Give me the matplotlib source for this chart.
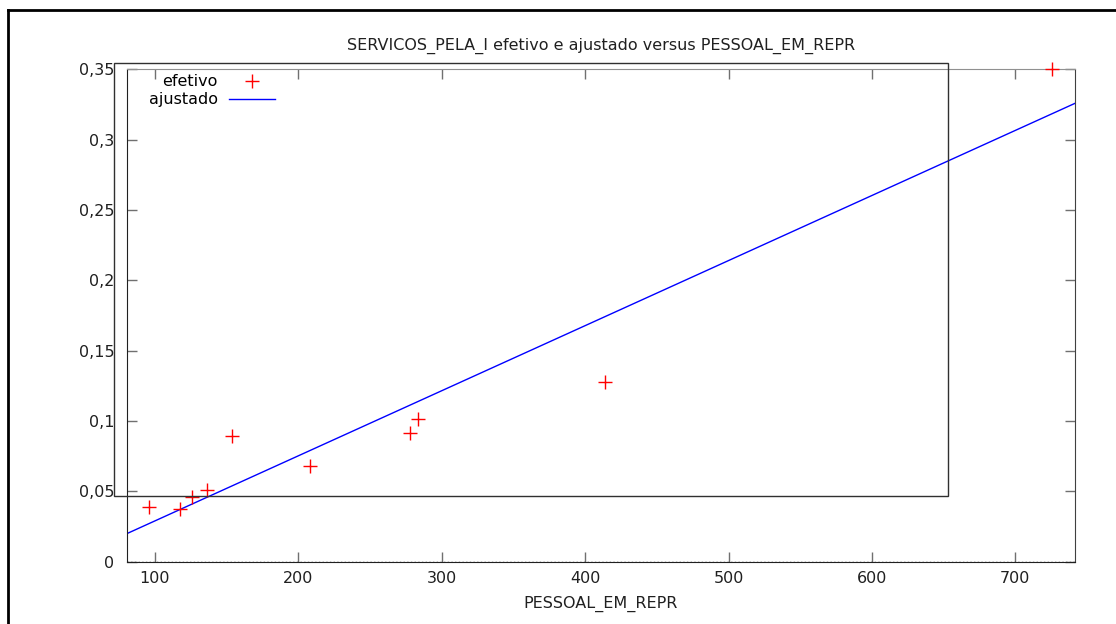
import matplotlib
matplotlib.use('Agg')
import matplotlib.pyplot as plt
import numpy as np
from matplotlib.ticker import FuncFormatter

# dados
pessoal = [95.8, 117.4, 125.6, 136.0, 153.9, 208.1, 278.0, 283.2, 413.8, 725.7]
servicos = [0.0389, 0.0375, 0.0462, 0.0510, 0.0896, 0.0678, 0.0915, 0.1012, 0.1275, 0.350]
coef = [0.0004626, -0.01725]   # inclinacao, intercepto
x_lim = [80.3, 741.6]
y_ticks = [0, 0.05, 0.1, 0.15, 0.2, 0.25, 0.3, 0.35]
x_ticks = [100, 200, 300, 400, 500, 600, 700]

fs = 11.5
plt.rcParams['font.family'] = 'DejaVu Sans'
plt.rcParams['font.size'] = fs

fig = plt.figure(figsize=(11.16, 6.24), dpi=100)
W, H = 1116, 624
ax = fig.add_axes([126.7 / W, 1 - 561.7 / H, (1075 - 126.7) / W, (561.7 - 69.3) / H])

ax.plot(pessoal, servicos, linestyle='none', marker='+', color='#ff0000',
        markersize=10, markeredgewidth=1, label='efetivo', clip_on=False, zorder=3)
xx = np.array(x_lim)
ax.plot(xx, np.polyval(coef, xx), color='#0000ff', lw=1, label='ajustado')

ax.set_xlim(x_lim)
ax.set_ylim(0, 0.35)
ax.set_xticks(x_ticks)
ax.set_yticks(y_ticks)
ax.yaxis.set_major_formatter(FuncFormatter(lambda v, p: ('%g' % v).replace('.', ',')))
ax.tick_params(direction='in', length=7, width=1, color='#707070',
               top=True, right=True, labelcolor='#202020', labelsize=fs)
ax.tick_params(axis='x', pad=7)
ax.tick_params(axis='y', pad=9)

for s in ['left', 'bottom']:
    ax.spines[s].set_color('#202020')
ax.spines['top'].set_color('#909090')
ax.spines['right'].set_color('#404040')
ax.axhline(0, color='#202020', ls=':', lw=1, zorder=4)

ax.set_title('SERVICOS_PELA_I efetivo e ajustado versus PESSOAL_EM_REPR',
             fontsize=fs, pad=14, color='#202020')
ax.set_xlabel('PESSOAL_EM_REPR', fontsize=fs, labelpad=7, color='#202020')

leg = ax.legend(loc='upper right', bbox_to_anchor=((275 - 126.7) / 948.3, 0.99),
                frameon=False, markerfirst=False, handlelength=2.9, handletextpad=0.7,
                labelspacing=0.2, borderpad=0, borderaxespad=0, fontsize=fs)
for t in leg.get_texts():
    t.set_ha('right')

# retangulo extra e moldura externa (coordenadas de figura)
fig.add_artist(plt.Rectangle((114.3 / W, 1 - 496 / H), (948 - 114.3) / W, (496 - 63.3) / H,
                             transform=fig.transFigure, fill=False, ec='#303030', lw=1))
fig.add_artist(plt.Line2D([8 / W, 1], [1 - 10 / H, 1 - 10 / H], transform=fig.transFigure,
                          color='black', lw=2))
fig.add_artist(plt.Line2D([8 / W, 8 / W], [1 - 10 / H, 0], transform=fig.transFigure,
                          color='black', lw=2))

fig.savefig('out.png', dpi=100)
